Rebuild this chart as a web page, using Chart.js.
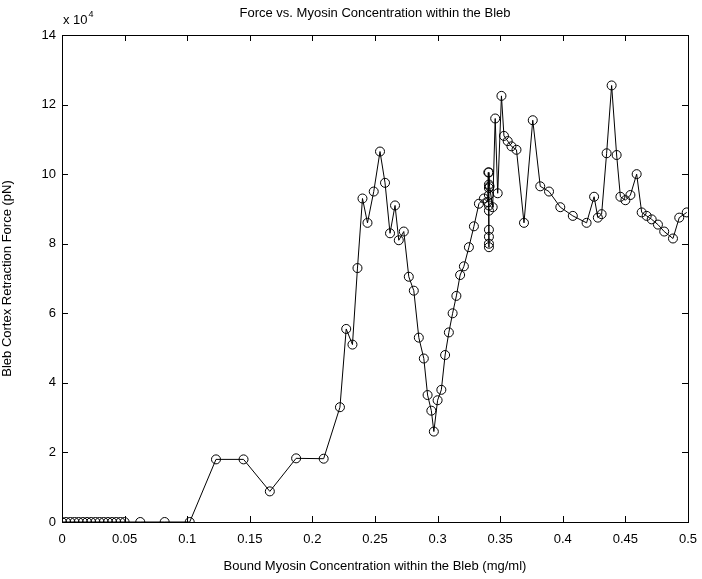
<!DOCTYPE html>
<html>
<head>
<meta charset="utf-8">
<script src="https://cdn.jsdelivr.net/npm/chart.js@4.4.0/dist/chart.umd.min.js"></script>
<style>
  html, body { margin: 0; padding: 0; background: #fff; }
  #wrap { width: 702px; height: 579px; }
</style>
</head>
<body>
<div id="wrap"><canvas id="forceChart"></canvas></div>
<script>
// bound myosin concentration (mg/ml)
const myosin = [
  0, 0.0033, 0.0067, 0.01, 0.0133, 0.0167, 0.02, 0.0233, 0.0267, 0.03, 0.0333, 0.0367, 0.04, 0.0433, 0.0467, 0.05,
  0.0625, 0.082, 0.102,
  0.123, 0.145, 0.166, 0.187, 0.209, 0.222, 0.227, 0.232, 0.236, 0.240, 0.244, 0.249, 0.254, 0.258, 0.262, 0.266,
  0.269, 0.273, 0.277, 0.281, 0.285, 0.289, 0.292, 0.295, 0.297, 0.300, 0.303, 0.306, 0.309, 0.312, 0.315, 0.318,
  0.321, 0.325, 0.329, 0.333, 0.337,
  0.340, 0.3405, 0.341, 0.341, 0.341, 0.341, 0.341, 0.341, 0.341, 0.341, 0.341, 0.341, 0.3415,
  0.344, 0.346, 0.348, 0.351, 0.353, 0.356, 0.359, 0.363, 0.369, 0.376, 0.382, 0.389, 0.398, 0.408, 0.419,
  0.425, 0.428, 0.431, 0.435, 0.439, 0.443, 0.446, 0.450, 0.454, 0.459, 0.463, 0.467, 0.471, 0.476, 0.481,
  0.488, 0.493, 0.499
];
// bleb cortex retraction force (pN)
const force = [
  0, 0, 0, 0, 0, 0, 0, 0, 0, 0, 0, 0, 0, 0, 0, 0,
  0, 0, 0,
  18000, 18000, 8800, 18300, 18200, 33000, 55500, 51000, 73000, 93000, 86000, 95000, 106500, 97500, 83000, 91000,
  81000, 83500, 70500, 66500, 53000, 47000, 36500, 32000, 26000, 35000, 38000, 48000, 54500, 60000, 65000, 71000,
  73500, 79000, 85000, 91500, 93000,
  92000, 100500, 97000, 96000, 94000, 91000, 89500, 84000, 82000, 80000, 79000, 100500, 96500,
  90500, 116000, 94500, 122500, 111000, 109500, 108000, 107000, 86000, 115500, 96500, 95000, 90500, 88000, 86000,
  93500, 87500, 88500, 106000, 125500, 105500, 93500, 92500, 94000, 100000, 89000, 88000, 87000, 85500, 83500,
  81500, 87500, 89000
];
const xTicks = [0, 0.05, 0.1, 0.15, 0.2, 0.25, 0.3, 0.35, 0.4, 0.45, 0.5];
const yTicks = [0, 20000, 40000, 60000, 80000, 100000, 120000, 140000];

const chartTitle = 'Force vs. Myosin Concentration within the Bleb';
const xTitle = 'Bound Myosin Concentration within the Bleb (mg/ml)';
const yTitle = 'Bleb Cortex Retraction Force (pN)';

const FONT = 'Liberation Sans, Arial, Helvetica, sans-serif';

// matlab style box with inward ticks, title and exponent label
const matlabAxes = {
  id: 'matlabAxes',
  afterDraw(chart) {
    const ctx = chart.ctx;
    const a = chart.chartArea;
    const xs = chart.scales.x, ys = chart.scales.y;
    const tl = 6;
    ctx.save();
    ctx.strokeStyle = '#000';
    ctx.lineWidth = 1;
    ctx.strokeRect(Math.round(a.left) + 0.5, Math.round(a.top) + 0.5,
      Math.round(a.right - a.left), Math.round(a.bottom - a.top));
    ctx.beginPath();
    xTicks.forEach(v => {
      const px = Math.round(xs.getPixelForValue(v)) + 0.5;
      ctx.moveTo(px, a.bottom); ctx.lineTo(px, a.bottom - tl);
      ctx.moveTo(px, a.top); ctx.lineTo(px, a.top + tl);
    });
    yTicks.forEach(v => {
      const py = Math.round(ys.getPixelForValue(v)) + 0.5;
      ctx.moveTo(a.left, py); ctx.lineTo(a.left + tl, py);
      ctx.moveTo(a.right, py); ctx.lineTo(a.right - tl, py);
    });
    ctx.stroke();

    ctx.fillStyle = '#000';
    ctx.font = '13px ' + FONT;
    ctx.textAlign = 'center';
    ctx.textBaseline = 'middle';
    ctx.fillText(chartTitle, (a.left + a.right) / 2, 13);

    ctx.textAlign = 'left';
    ctx.textBaseline = 'alphabetic';
    ctx.fillText('x 10', a.left + 1, 24);
    const w = ctx.measureText('x 10').width;
    ctx.font = '9px ' + FONT;
    ctx.fillText('4', a.left + 1 + w + 1, 17);
    ctx.restore();
  }
};

const ctx = document.getElementById('forceChart').getContext('2d');
new Chart(ctx, {
  type: 'line',
  data: {
    datasets: [{
      data: myosin.map((x, i) => ({ x: x, y: force[i] })),
      borderColor: '#000',
      borderWidth: 1,
      backgroundColor: 'rgba(0,0,0,0)',
      pointStyle: 'circle',
      pointRadius: 4.5,
      pointBorderWidth: 1,
      pointBorderColor: '#000',
      pointBackgroundColor: 'rgba(0,0,0,0)',
      tension: 0,
      fill: false
    }]
  },
  options: {
    responsive: true,
    maintainAspectRatio: false,
    animation: false,
    layout: { padding: { top: 35, right: 14, left: 0, bottom: 0 } },
    plugins: { legend: { display: false }, tooltip: { enabled: false }, title: { display: false } },
    scales: {
      x: {
        type: 'linear', min: 0, max: 0.5,
        afterBuildTicks: s => { s.ticks = xTicks.map(v => ({ value: v })); },
        afterFit: s => { s.height = 57; s.paddingLeft = 0; s.paddingRight = 0; },
        grid: { display: false, drawTicks: false },
        border: { display: false },
        ticks: {
          color: '#000', font: { family: FONT, size: 13 }, padding: 10, maxRotation: 0,
          callback: v => String(parseFloat(v.toFixed(2)))
        },
        title: { display: true, text: xTitle, color: '#000', font: { family: FONT, size: 13 }, padding: { top: 2, bottom: 5 } }
      },
      y: {
        type: 'linear', min: 0, max: 140000,
        afterBuildTicks: s => { s.ticks = yTicks.map(v => ({ value: v })); },
        afterFit: s => { s.width = 62; s.paddingTop = 0; s.paddingBottom = 0; },
        grid: { display: false, drawTicks: false },
        border: { display: false },
        ticks: {
          color: '#000', font: { family: FONT, size: 13 }, padding: 6,
          callback: v => String(v / 10000)
        },
        title: { display: true, text: yTitle, color: '#000', font: { family: FONT, size: 13 }, padding: { top: 0, bottom: 8 } }
      }
    }
  },
  plugins: [matlabAxes]
});
</script>
</body>
</html>
